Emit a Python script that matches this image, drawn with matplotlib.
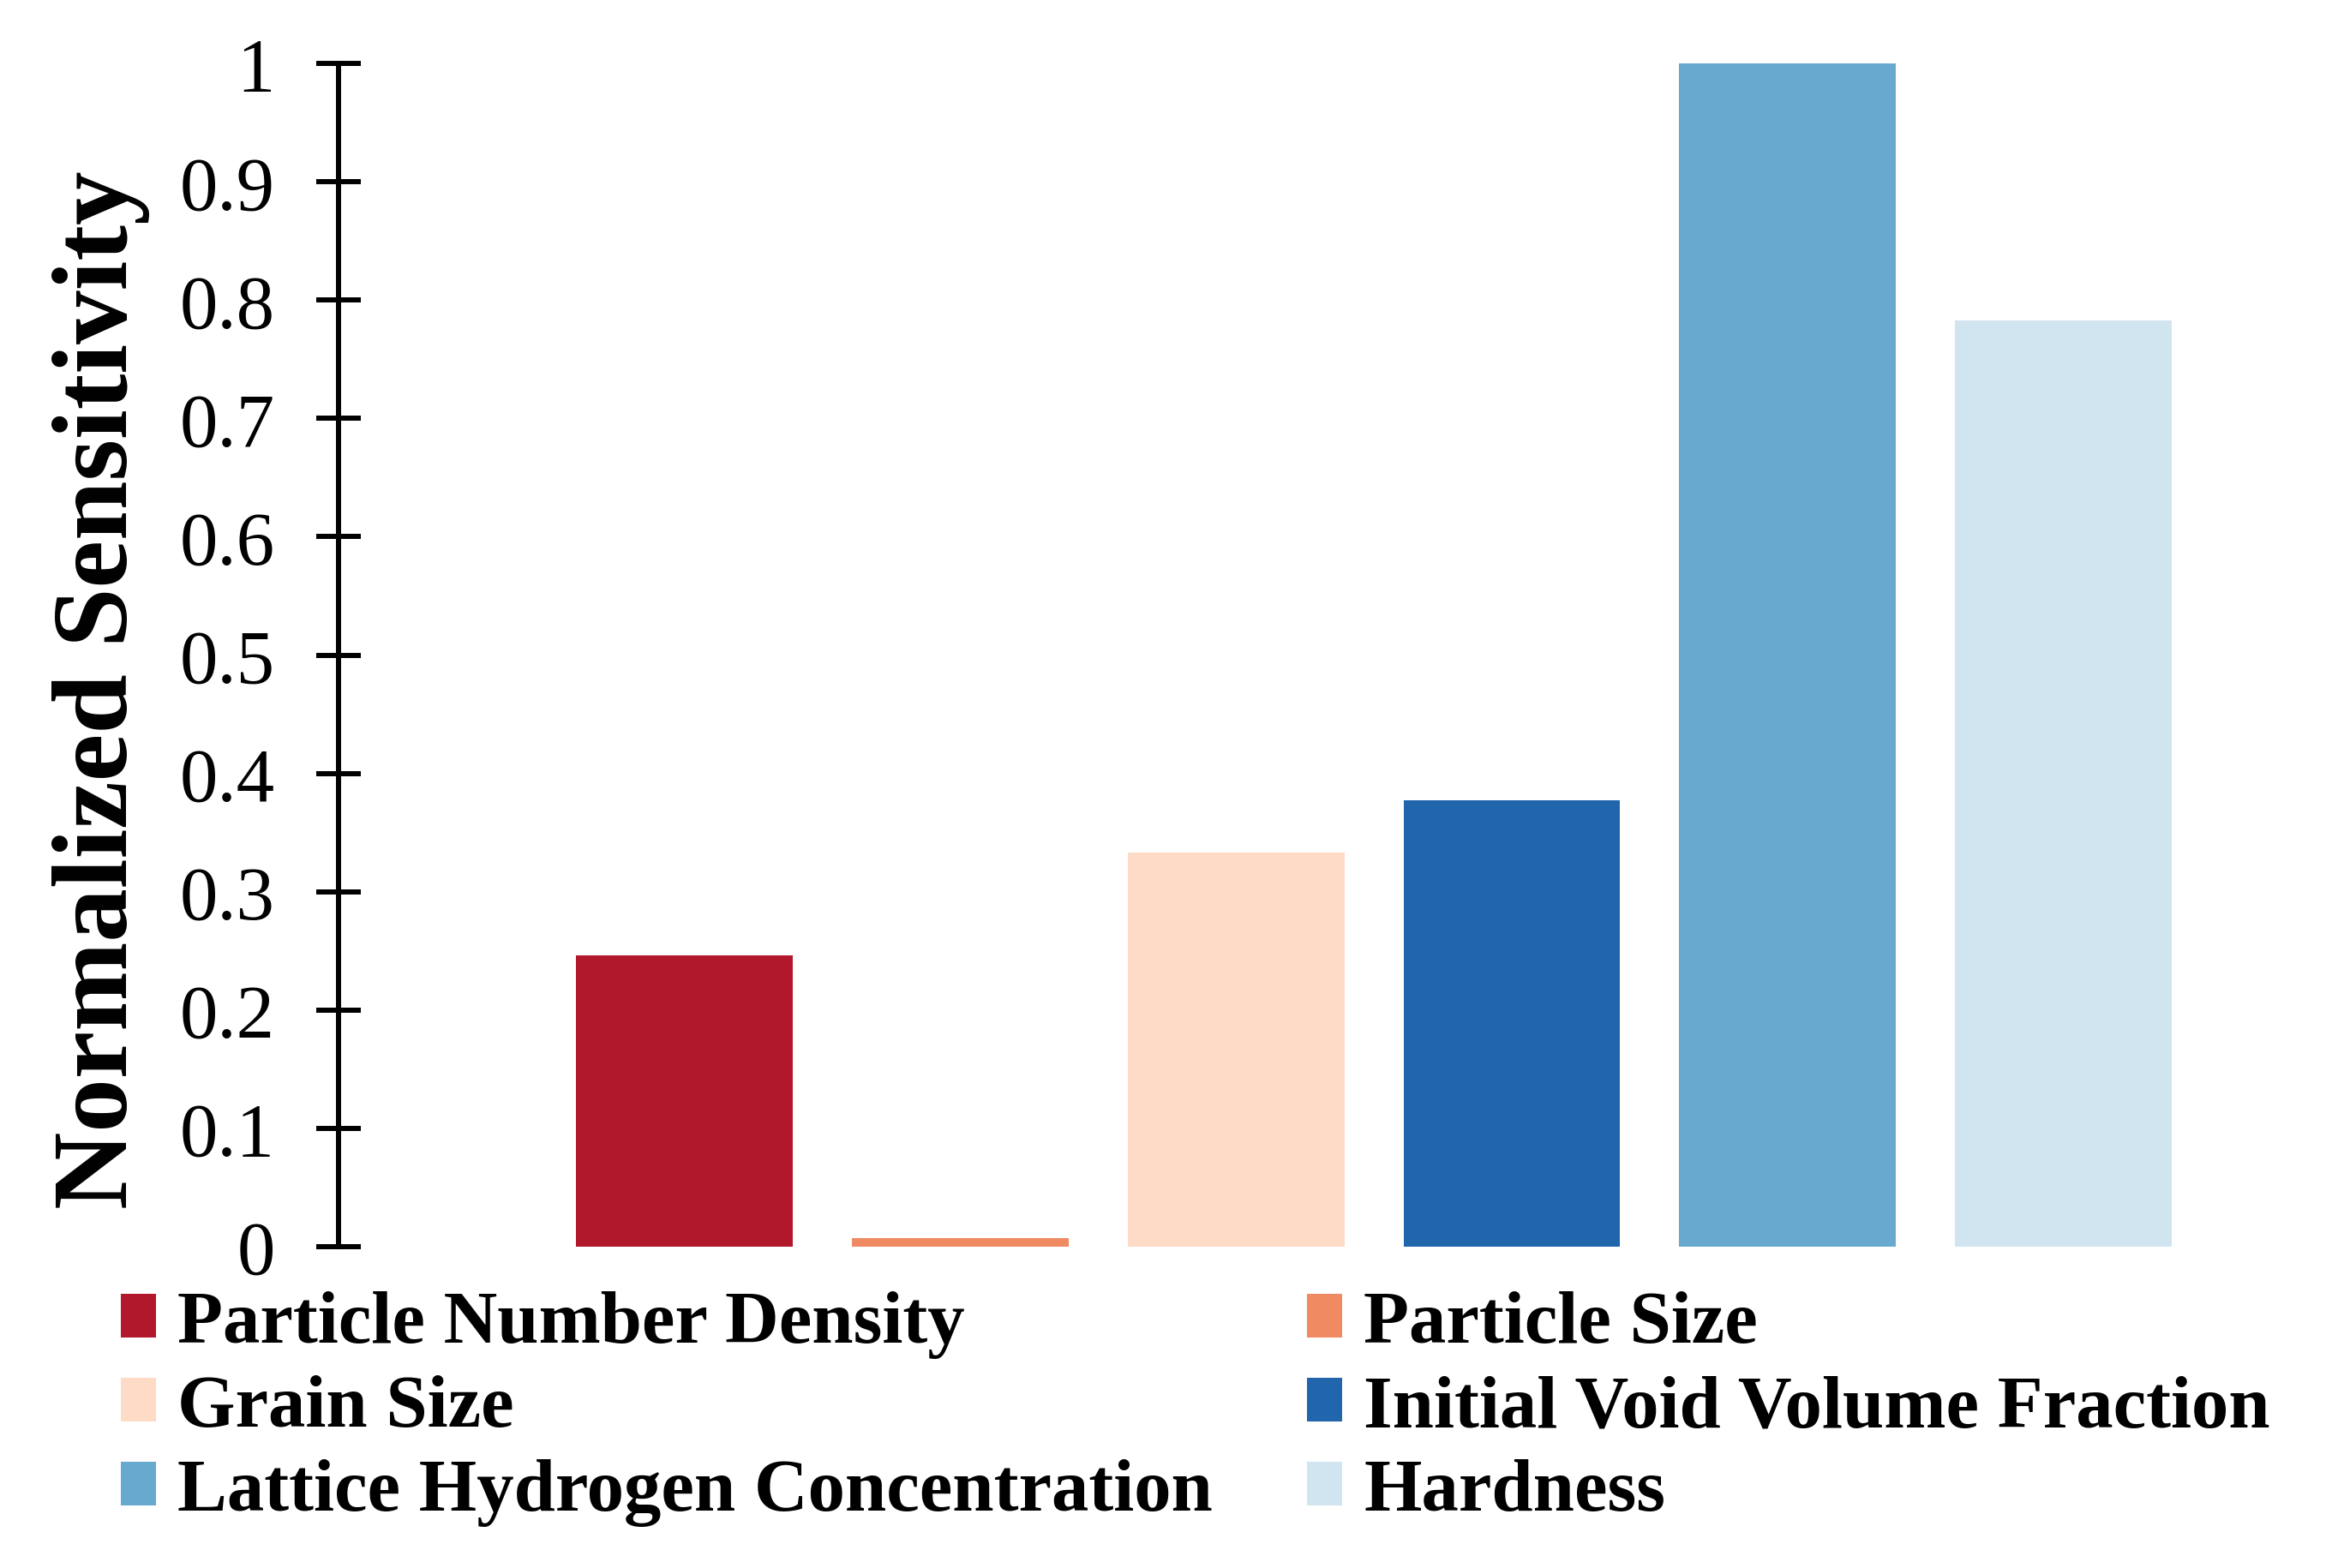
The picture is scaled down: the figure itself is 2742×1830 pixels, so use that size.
import matplotlib
matplotlib.use("Agg")
import matplotlib.pyplot as plt
from matplotlib.ticker import FuncFormatter

names = ["Particle Number Density", "Particle Size", "Grain Size",
         "Initial Void Volume Fraction", "Lattice Hydrogen Concentration", "Hardness"]
values = [0.246, 0.007, 0.333, 0.377, 1.0, 0.783]
colors = ["#B2182B", "#EF8A62", "#FDDBC7", "#2166AC", "#67A9CF", "#D1E5F0"]
yticks = [0, 0.1, 0.2, 0.3, 0.4, 0.5, 0.6, 0.7, 0.8, 0.9, 1]

plt.rcParams['font.family'] = ['Liberation Serif', 'DejaVu Serif']

fig = plt.figure(figsize=(27.42, 18.31), dpi=100)
ax = fig.add_axes([0.144, 0.2048, 0.841, 0.7542])

for i, (n, v, c) in enumerate(zip(names, values, colors)):
    ax.bar(i, v, width=0.786, color=c, label=n)

ax.set_xlim(-1.256, 5.912)
ax.set_ylim(0, 1)
ax.set_xticks([])
ax.set_yticks(yticks)
ax.yaxis.set_major_formatter(FuncFormatter(lambda v, p: "{:g}".format(v)))
ax.tick_params(axis='y', direction='inout', length=37, width=4.3, labelsize=64, pad=35)

for s in ['top', 'right', 'bottom']:
    ax.spines[s].set_visible(False)
ax.spines['left'].set_linewidth(4.3)

ax.set_ylabel("Normalized Sensitivity", fontsize=90, fontweight='bold')
ax.yaxis.set_label_coords(-0.0954, 0.471)

# legend below the plot, 2 columns filled row by row
order = [0, 2, 4, 1, 3, 5]
h, l = ax.get_legend_handles_labels()
leg = fig.legend([h[k] for k in order], [l[k] for k in order], ncol=2,
                 loc='upper left', bbox_to_anchor=(0.0514, 0.1768),
                 frameon=False, borderpad=0, borderaxespad=0,
                 handlelength=0.47, handleheight=0.52, handletextpad=0.29,
                 labelspacing=0.22, columnspacing=1.27,
                 prop={'size': 62.5, 'weight': 'bold'})

fig.savefig("out.png", dpi=100)
